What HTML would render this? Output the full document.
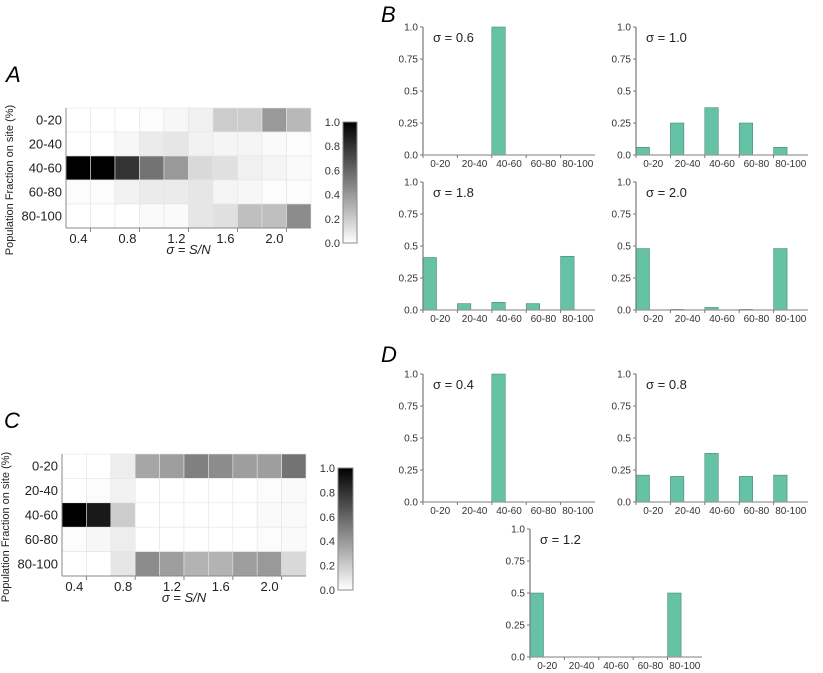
<!DOCTYPE html>
<html><head><meta charset="utf-8"><style>
body{margin:0;background:#fff;}
svg{display:block;font-family:"Liberation Sans",sans-serif;}
</style></head><body>
<svg id="fig" width="823" height="673" viewBox="0 0 823 673" xmlns="http://www.w3.org/2000/svg">
<defs><linearGradient id="cbg" x1="0" y1="1" x2="0" y2="0"><stop offset="0" stop-color="#fff"/><stop offset="1" stop-color="#000"/></linearGradient></defs>
</svg>
<script>
const rowLabels = ["0-20","20-40","40-60","60-80","80-100"];
const xTickLabels = ["0.4","0.8","1.2","1.6","2.0"];
const cbTicks = ["0.0","0.2","0.4","0.6","0.8","1.0"];
const heatA = [
 [0,0,0,0.01,0.03,0.06,0.2,0.2,0.4,0.28],
 [0,0,0.03,0.08,0.1,0.05,0.04,0.04,0.02,0.01],
 [1,1,0.8,0.55,0.4,0.15,0.12,0.06,0.04,0.02],
 [0.01,0.01,0.05,0.08,0.08,0.1,0.04,0.03,0.01,0.01],
 [0,0,0,0.02,0.02,0.1,0.12,0.25,0.25,0.45]];
const heatC = [
 [0,0,0.07,0.35,0.38,0.5,0.45,0.38,0.38,0.55],
 [0,0.01,0.05,0,0,0,0,0,0.01,0.02],
 [1,0.9,0.2,0,0,0,0,0,0.02,0.02],
 [0.01,0.03,0.07,0,0,0,0,0,0.01,0.02],
 [0,0,0.1,0.45,0.38,0.3,0.3,0.38,0.4,0.15]];
const barCats = ["0-20","20-40","40-60","60-80","80-100"];
const yTicks = [0,0.25,0.5,0.75,1.0];
const yTickLabels = ["0.0","0.25","0.5","0.75","1.0"];
const barB1 = [0,0,1,0,0];
const barB2 = [0.06,0.25,0.37,0.25,0.06];
const barB3 = [0.41,0.05,0.06,0.05,0.42];
const barB4 = [0.48,0.005,0.02,0.005,0.48];
const barD1 = [0,0,1,0,0];
const barD2 = [0.21,0.2,0.38,0.2,0.21];
const barD3 = [0.5,0,0,0,0.5];

const svg = document.getElementById('fig');
const NS = "http://www.w3.org/2000/svg";
function mk(tag, attrs, parent){const e=document.createElementNS(NS,tag);for(const k in attrs)e.setAttribute(k,attrs[k]);(parent||svg).appendChild(e);return e;}
function txt(s, attrs, parent){const e=mk('text',attrs,parent);e.textContent=s;return e;}

function letter(s,x,y){const t=txt(s,{x:x,y:y,'font-size':22,'font-style':'italic',fill:'#000'});

}
letter('A',6,82);letter('B',381,22);letter('C',4,428);letter('D',381,362);

function heatmap(name,data,x0,x1,y0,y1,cb){
  const g=mk('g',{});
  
  
  const nc=data[0].length,nr=data.length;
  const cw=(x1-x0)/nc,rh=(y1-y0)/nr;
  const xs=i=>x0+i*cw, ys=j=>y0+j*rh;
  data.forEach((row,j)=>row.forEach((v,i)=>{
    const c=Math.round(255*(1-v));
    const r=mk('rect',{x:xs(i),y:ys(j),width:cw,height:rh,fill:`rgb(${c},${c},${c})`,stroke:'#e4e4e4','stroke-width':0.6},g);
    
    
  }));
  mk('line',{x1:x0,y1:y0,x2:x0,y2:y1,stroke:'#888','stroke-width':1},g);
  mk('line',{x1:x0,y1:y1,x2:x1,y2:y1,stroke:'#888','stroke-width':1},g);
  rowLabels.forEach((l,j)=>{
    const t=txt(l,{x:x0-4,y:ys(j)+rh/2+4.5,'text-anchor':'end','font-size':13,fill:'#222'},g);
    
    
  });
  xTickLabels.forEach((l,k)=>{
    const tx=xs(1+2*k);
    mk('line',{x1:tx,y1:y1,x2:tx,y2:y1+4,stroke:'#888'},g);
    const t=txt(l,{x:tx-3,y:y1+15,'text-anchor':'end','font-size':13,fill:'#222'},g);
    
    
  });
  const xt=txt('σ = S/N',{x:(x0+x1)/2,y:y1+26,'text-anchor':'middle','font-size':13,'font-style':'italic',fill:'#222'},g);
  
  
  const yt=txt('Population Fraction on site (%)',{x:0,y:0,'text-anchor':'middle','font-size':11,fill:'#222',transform:`translate(${x0-53},${(y0+y1)/2+12}) rotate(-90)`},g);
  
  
  const cbr=mk('rect',{x:cb[0],y:cb[1],width:cb[2]-cb[0],height:cb[3]-cb[1],fill:'url(#cbg)',stroke:'#888','stroke-width':1},g);
  
  
  cbTicks.forEach((l,k)=>{
    const ty=cb[3]-k/5*(cb[3]-cb[1]);
    const t=txt(l,{x:cb[0]-3,y:ty+4,'text-anchor':'end','font-size':11,fill:'#333'},g);
    
    
  });
}
heatmap('heatmap-a',heatA,66,311,108,228,[343,122,357,243]);
heatmap('heatmap-c',heatC,62,306,454,576,[338,468,353,590]);

function bars(name,vals,label,ax,y0,y1){
  const g=mk('g',{});
  
  
  const cw=34.4, w=cw*5;
  const ys=v=>y0-v*(y0-y1);
  const xs=i=>ax+i*cw;
  vals.forEach((v,i)=>{
    if(v<=0)return;
    const r=mk('rect',{x:xs(i),y:ys(v),width:13.5,height:y0-ys(v),fill:'#66c2a5',stroke:'#3a7a66','stroke-width':0.5},g);
    
    
  });
  mk('line',{x1:ax,y1:y1,x2:ax,y2:y0,stroke:'#777','stroke-width':1.2},g);
  mk('line',{x1:ax,y1:y0,x2:ax+w,y2:y0,stroke:'#999','stroke-width':1.2},g);
  yTicks.forEach((v,k)=>{
    mk('line',{x1:ax-3,y1:ys(v),x2:ax,y2:ys(v),stroke:'#777'},g);
    const t=txt(yTickLabels[k],{x:ax-5,y:ys(v)+3.5,'text-anchor':'end','font-size':10,fill:'#333'},g);
    
    
  });
  barCats.forEach((c,i)=>{
    mk('line',{x1:xs(i),y1:y0,x2:xs(i),y2:y0+3,stroke:'#777'},g);
    const t=txt(c,{x:xs(i)+cw/2,y:y0+12,'text-anchor':'middle','font-size':10,fill:'#333'},g);
    
    
  });
  const lt=txt('σ = '+label,{x:ax+10,y:y1+15,'font-size':13,fill:'#222'},g);
  
  
}
bars('bar-chart-b-sigma-0.6',barB1,'0.6',423,155,27);
bars('bar-chart-b-sigma-1.0',barB2,'1.0',636,155,27);
bars('bar-chart-b-sigma-1.8',barB3,'1.8',423,310,182);
bars('bar-chart-b-sigma-2.0',barB4,'2.0',636,310,182);
bars('bar-chart-d-sigma-0.4',barD1,'0.4',423,502,374);
bars('bar-chart-d-sigma-0.8',barD2,'0.8',636,502,374);
bars('bar-chart-d-sigma-1.2',barD3,'1.2',530,657,529);
</script>
</body></html>
